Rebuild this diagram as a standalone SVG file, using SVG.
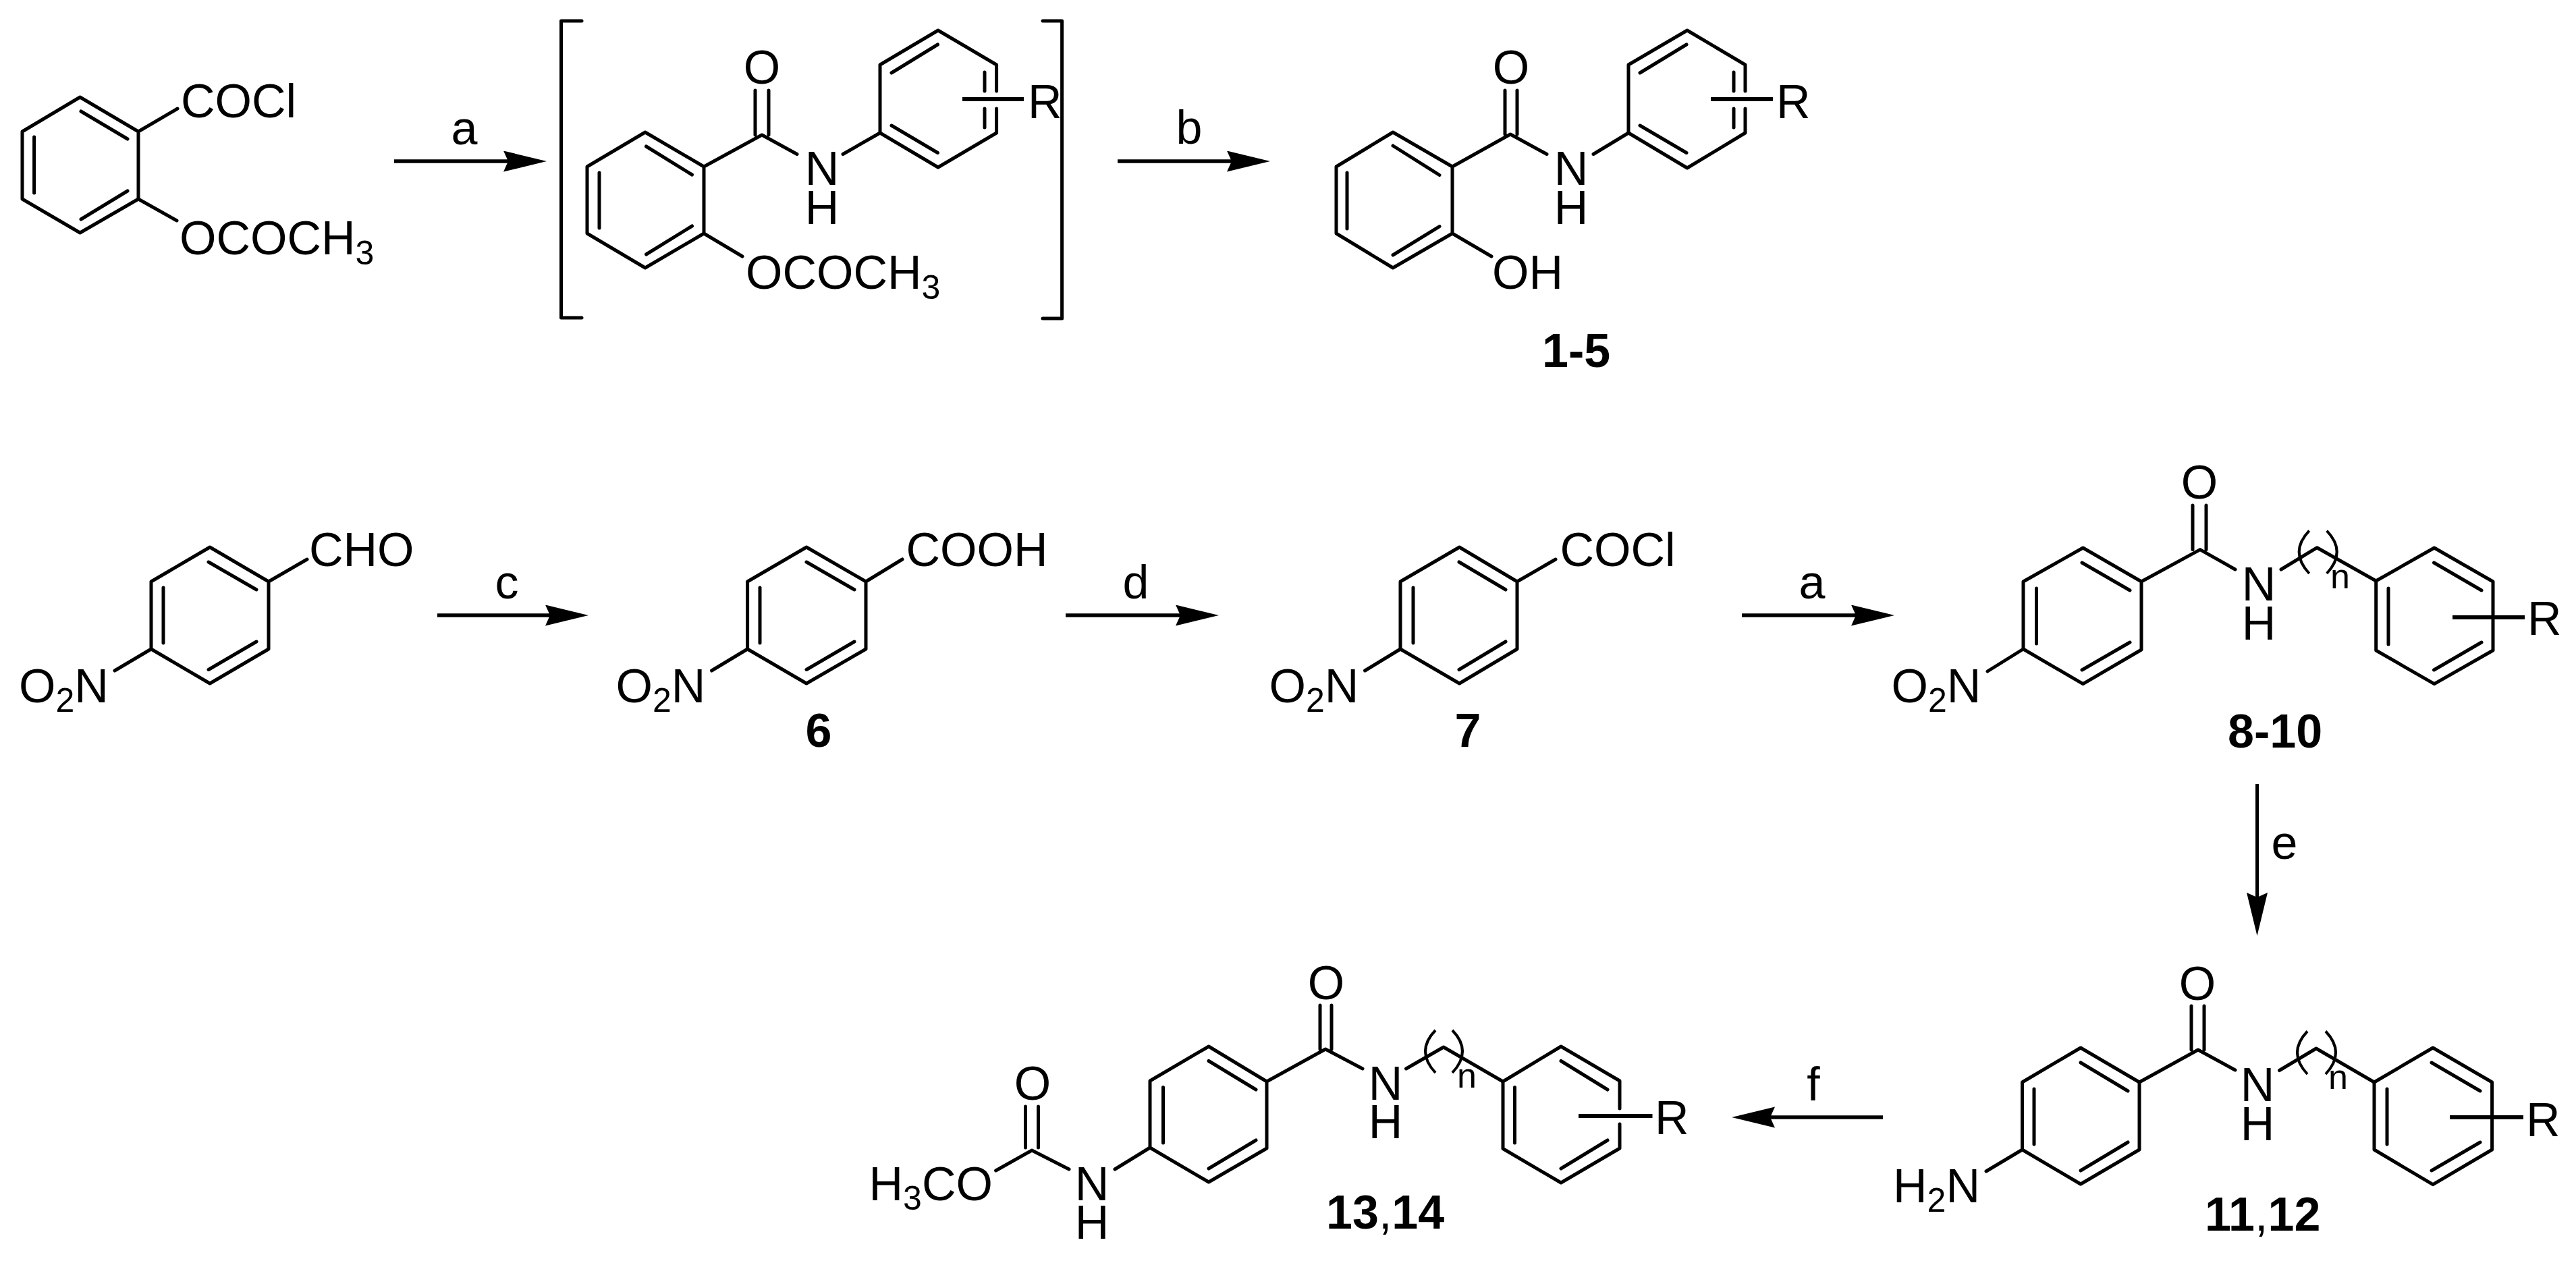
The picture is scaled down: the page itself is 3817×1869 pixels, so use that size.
<svg xmlns="http://www.w3.org/2000/svg" width="3817" height="1869" viewBox="0 0 3817 1869">
<style>
.b{fill:none;stroke:#000;stroke-width:5;stroke-linecap:round;stroke-linejoin:round}
.s{fill:none;stroke:#000;stroke-width:6}
.p{fill:none;stroke:#000;stroke-width:4}
.arr{fill:none;stroke:#000;stroke-width:5.5;marker-end:url(#head)}
text{font-family:"Liberation Sans",Arial,sans-serif;font-size:70px;fill:#000}
.m{text-anchor:middle}
.sm{font-size:50px}
.n{font-weight:bold}
.r{font-weight:normal}
</style>
<defs>
<marker id="head" markerUnits="userSpaceOnUse" markerWidth="66" markerHeight="32" refX="7" refY="15.500" orient="auto"><path d="M0 0L64 15.500L0 31L7 15.500Z" fill="#000"/></marker>
</defs>
<rect width="3817" height="1869" fill="#fff"/>
<g id="connectors">
<path class="arr" d="M584 239H753"/>
<path class="arr" d="M1656 239H1825"/>
<path class="arr" d="M648 912H815"/>
<path class="arr" d="M1579 912H1749"/>
<path class="arr" d="M2581 912H2750"/>
<path class="arr" style="stroke-width:5" d="M3344.500 1162V1330"/>
<path class="arr" d="M2790 1656H2623"/>
<text class="m" x="688" y="214">a</text>
<text class="m" x="1762" y="213">b</text>
<text class="m" x="751" y="887">c</text>
<text class="m" x="1683" y="887">d</text>
<text class="m" x="2685" y="887">a</text>
<text class="m" x="3385" y="1273">e</text>
<text class="m" x="2687" y="1631">f</text>
</g>
<g id="brackets">
<path class="b" d="M862 31H831.500V471H862"/>
<path class="b" d="M1545 31H1573.600V472H1545"/>
</g>
<g id="mol-acid-chloride">
<path class="b" d="M118.600 144L205 195V295L118.600 345L33 295V195ZM50.600 203V286M120 165L189 206M120 325L189 283M205 195L263 161M205 295L262 327"/>
<text x="268" y="174">COCl</text>
<text x="266" y="377">OCOCH<tspan class="sm" dy="15">3</tspan></text>
</g>
<g id="mol-intermediate">
<path class="b" d="M956 196L1043 247V346L956 397L870 346V247ZM888 256V338M957.500 217L1025.500 259M957.500 377L1025.500 335M1043 346L1100 380M1043 247L1129 200L1181 228.500M1119 134V200M1139 134V200M1249 228.500L1304 197"/>
<path class="b" d="M1476.600 135V96L1390 45L1304 96V197L1390 248L1476.600 197V161M1321 108L1389.500 66M1321 186L1389.500 226.500M1459 107V135M1459 161V189"/>
<path class="s" d="M1426 147H1517"/>
<text class="m" x="1129" y="124">O</text>
<text class="m" x="1218" y="274">N</text>
<text class="m" x="1218" y="332">H</text>
<text x="1523" y="175">R</text>
<text x="1105" y="428">OCOCH<tspan class="sm" dy="15">3</tspan></text>
</g>
<g id="mol-1-5">
<path class="b" d="M2064 196L2152 247V346L2064 397L1980 346V247ZM1996 256V339M2064 216L2133 259.500M2064 378L2133 335.600M2152 346L2210 380M2152 247L2238 199L2292 228.500M2230 134V199M2248 134V199M2361 228.500L2413 197"/>
<path class="b" d="M2586 135V96L2500 45L2413 96V197L2500 249L2586 197V161M2430 108L2499 66M2430 186L2499 226.500M2569 107V135M2569 161V189"/>
<path class="s" d="M2535 147H2627"/>
<text class="m" x="2239" y="124">O</text>
<text class="m" x="2328" y="274">N</text>
<text class="m" x="2328" y="332">H</text>
<text x="2632" y="175">R</text>
<text x="2211" y="428">OH</text>
<text class="n" x="2285" y="544">1-5</text>
</g>
<g id="mol-aldehyde">
<path class="b" d="M311 811L398 862V962L311 1013L224 962V862ZM242 871V953M309 833L380 874M309 992.500L380 951M398 862L455 829M224 962L170 994"/>
<text x="458" y="839">CHO</text>
<text x="28" y="1041">O<tspan class="sm" dy="14">2</tspan><tspan dy="-14">N</tspan></text>
</g>
<g id="mol-6">
<path class="b" d="M1195 811L1283 862V962L1195 1013L1107.600 962V862ZM1126 871V953M1195 833L1266 874M1195 992.500L1266 951M1283 862L1337 829M1107.600 962L1054.500 994"/>
<text x="1342.500" y="839">COOH</text>
<text x="912.500" y="1041">O<tspan class="sm" dy="14">2</tspan><tspan dy="-14">N</tspan></text>
<text class="n m" x="1213" y="1107">6</text>
</g>
<g id="mol-7">
<path class="b" d="M2162.500 811L2248 862V962L2162.500 1013L2075 962V862ZM2094 871V953M2162 833L2231 874M2162 992.500L2231 951M2248 862L2305 829M2075 962L2022.500 994"/>
<text x="2311.500" y="839">COCl</text>
<text x="1880.500" y="1041">O<tspan class="sm" dy="14">2</tspan><tspan dy="-14">N</tspan></text>
<text class="n m" x="2175" y="1107">7</text>
</g>
<g id="mol-8-10">
<path class="b" d="M3086.500 812L3173 862V963L3086.500 1013.600L2998 962V862ZM3017.500 872V954M3085 834L3156 875M3085 993L3156 952M2998 962L2945 995M3173 862L3260 814.600L3312 844M3249 749V814.600M3269 749V814.600M3380 844L3433.300 811.700L3520.700 861"/>
<path class="b" d="M3607 812L3694 862V964L3607 1013.600L3520.700 964V861ZM3539 872V955M3606.500 834L3677 875M3606.500 993L3677 952"/>
<path class="p" d="M3421.700 786.700Q3391.700 818 3421.700 850M3447.700 786.700Q3477.700 818 3447.700 850"/>
<path class="s" d="M3634 915H3741"/>
<text class="m" x="3259" y="739">O</text>
<text class="m" x="3347" y="890">N</text>
<text class="m" x="3347" y="948">H</text>
<text style="font-size:52px" x="3453" y="872">n</text>
<text x="3745" y="941">R</text>
<text x="2802.500" y="1041">O<tspan class="sm" dy="14">2</tspan><tspan dy="-14">N</tspan></text>
<text class="n" x="3301" y="1108">8-10</text>
</g>
<g id="mol-11-12">
<path class="b" d="M3083 1553L3170 1604V1704L3083 1755L2996.500 1704V1604ZM3014 1614V1696M3083 1575L3153 1617M3083 1735L3153 1693M2996.500 1704L2943 1736M3170 1604L3257 1556L3312 1586M3247 1491V1556M3266 1491V1556M3377.500 1586.500L3432 1554L3518 1604"/>
<path class="b" d="M3605 1553L3692.600 1604V1704L3605 1755.600L3518 1704V1604ZM3537 1614V1696M3603 1575L3675 1617M3603 1735L3675 1693"/>
<path class="p" d="M3419 1528.500Q3389 1560 3419 1592M3446 1528.500Q3476 1560 3446 1592"/>
<path class="s" d="M3630 1656H3739"/>
<text class="m" x="3256" y="1482">O</text>
<text class="m" x="3345" y="1632">N</text>
<text class="m" x="3345" y="1690">H</text>
<text style="font-size:52px" x="3450" y="1614">n</text>
<text x="3743" y="1684">R</text>
<text x="2805" y="1782">H<tspan class="sm" dy="14">2</tspan><tspan dy="-14">N</tspan></text>
<text class="n" x="3267" y="1824">11<tspan class="r">,</tspan>12</text>
</g>
<g id="mol-13-14">
<path class="b" d="M1791 1551L1877 1603V1702L1791 1752L1704 1701V1602ZM1723.500 1611.500V1694M1791 1572.500L1861 1615M1791 1732L1861 1690M1704 1701L1652 1733M1877 1603L1964 1555L2019 1584M1956 1490V1555M1973 1490V1555M2083.500 1584L2139 1552L2227 1603"/>
<path class="b" d="M2400 1643V1602L2313 1551L2227 1603V1702.500L2313 1753L2400 1702V1666M2244.500 1611.500V1694M2313 1572.500L2382 1615M2313 1732L2382 1690"/>
<path class="p" d="M2127 1527Q2097 1558 2127 1590M2152 1527Q2182 1558 2152 1590"/>
<path class="s" d="M2339 1654H2448.500"/>
<path class="b" d="M1475.600 1735L1529 1705L1584 1733M1519.500 1640V1701M1538.500 1640V1701"/>
<text class="m" x="1530" y="1630">O</text>
<text class="m" x="1618" y="1779">N</text>
<text class="m" x="1618" y="1836">H</text>
<text class="m" x="2053" y="1630">N</text>
<text class="m" x="2053" y="1687">H</text>
<text class="m" x="1965" y="1481">O</text>
<text style="font-size:52px" x="2159" y="1612">n</text>
<text x="2452" y="1681">R</text>
<text x="1287.500" y="1779">H<tspan class="sm" dy="14">3</tspan><tspan dy="-14">CO</tspan></text>
<text class="n" x="1965" y="1821">13<tspan class="r">,</tspan>14</text>
</g>
</svg>
